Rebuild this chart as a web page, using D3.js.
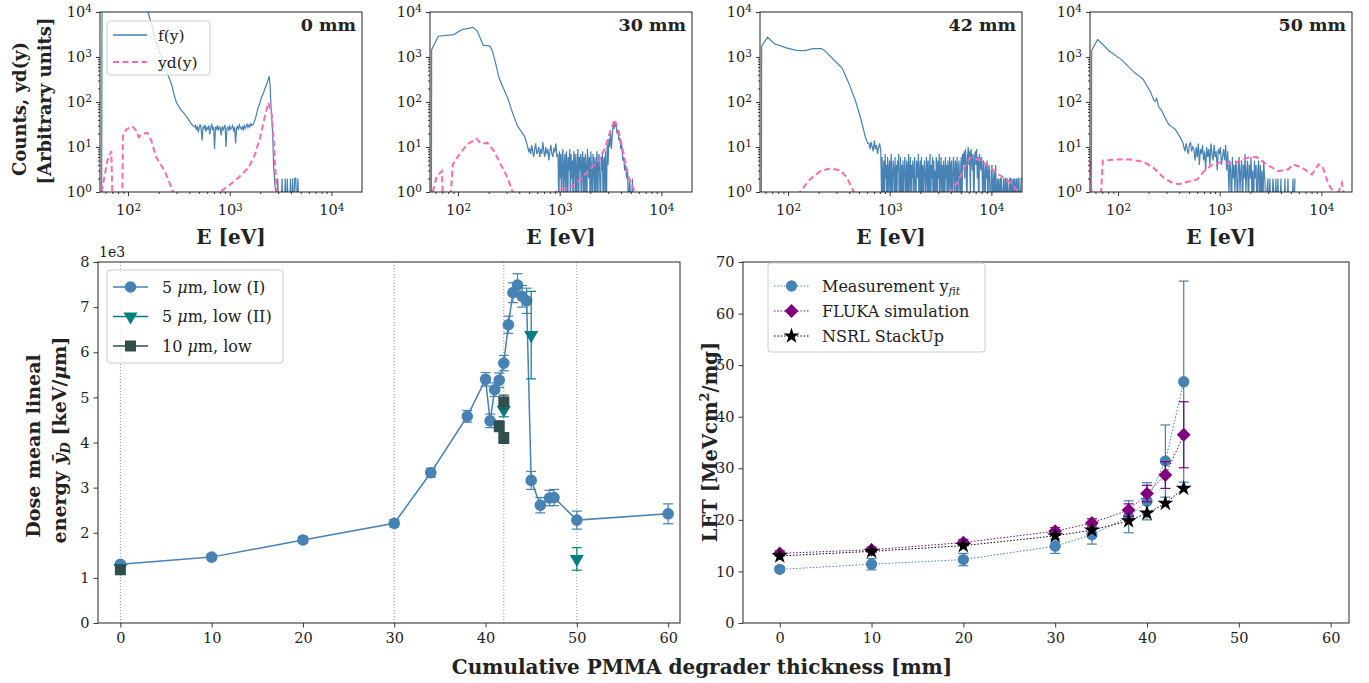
<!DOCTYPE html>
<html>
<head>
<meta charset="utf-8">
<script src="https://cdn.jsdelivr.net/npm/d3@7"></script>
<style>
  body { margin: 0; background: #fff; }
  text { font-family: "DejaVu Serif", serif; fill: #222; }
</style>
</head>
<body>
<svg id="chart" width="1369" height="683"></svg>
<script>
  // ---- spectra (top row) ----
  const E_RANGE = [53, 20000];
  const COUNT_RANGE = [1, 1e4];
  const E_TICKS = [1e2, 1e3, 1e4];
  const COUNT_TICKS = [1e0, 1e1, 1e2, 1e3, 1e4];
  const PANEL_TITLES = ["0 mm", "30 mm", "42 mm", "50 mm"];

  // f(y): smooth parts as [E, counts]; noisy parts as counts spread over a bin range
  const f0Head = [[55, 0], [55.5, 30000], [57, 60000], [157, 10000], [172, 5000], [185, 2500], [200, 1500], [214, 950], [240, 480], [268, 245], [285, 140], [300, 96], [330, 68], [363, 53], [395, 40], [422, 32], [450, 28]];
  const f0Noise = [30, 24, 29, 21, 27, 32, 25, 14, 28, 26, 31, 22, 27, 25, 30, 19, 26, 33, 24, 28, 9, 27, 25, 30, 23, 28, 26, 18, 29, 24, 27, 31, 10, 26, 28, 23, 29, 25, 27, 30, 22, 28, 12, 26, 29, 24, 31, 27, 25, 28, 23, 30, 26, 29, 32, 27, 31, 28, 33, 30];
  const f0Tail = [[1700, 31], [1800, 45], [1900, 74], [1980, 95], [2050, 124], [2150, 160], [2200, 190], [2330, 260], [2445, 373], [2500, 220], [2550, 74], [2600, 40], [2650, 18], [2700, 4], [2780, 1.5], [2850, 1]];
  const f0Spikes = [0, 2, 0, 1, 0, 2, 0, 0, 2, 0, 2, 0, 0, 2, 0, 2, 0, 2, 2, 0, 2, 0];

  const f30Head = [[54.7, 0], [55, 1450], [64, 2900], [91, 3150], [109, 4070], [141, 4560], [155, 3720], [177, 1820], [206, 1740], [218, 1350], [235, 700], [253, 345], [280, 200], [307, 124], [325, 85], [344, 57], [365, 40], [385, 29], [420, 22], [449, 17.5], [475, 12]];
  const f30NoiseA = [10, 8, 9, 7, 11, 8, 6, 9, 12, 7, 8, 10, 6, 9, 7, 13, 8, 6, 10, 7, 9, 5, 8, 11, 7, 6, 9, 8, 12, 6, 7];
  const f30NoiseB = [5, 0, 8, 2, 7, 0, 6, 9, 1, 4, 7, 0, 8, 5, 0, 6, 3, 9, 0, 7, 2, 5, 0, 8, 6, 1, 7, 0, 4, 9, 0, 6, 3, 7, 0, 5, 8, 1, 6, 0, 7, 4, 0, 9, 5, 2, 6, 0, 8, 3, 0, 7, 5, 1, 6, 0, 4, 8, 0, 5, 7, 2, 0, 6, 3, 8, 0, 5, 6, 0];
  const f30NoiseC = [8, 0, 12, 4, 15, 10, 22, 9, 18, 30, 25, 38];
  const f30NoiseD = [28, 33, 20, 24, 14, 16, 9, 11, 5, 6, 3, 4, 2, 3, 0, 2, 1, 0, 2, 0];

  const f42Head = [[54.7, 0], [55, 1740], [63, 2750], [73.6, 1960], [96, 1590], [121, 1410], [146, 1390], [177, 1540], [214, 1540], [232, 1350], [280, 880], [339, 575], [395, 266], [461, 105], [517, 44.6], [579, 16], [610, 12]];
  const f42NoiseA = [12, 9, 13, 10, 8, 14, 9, 11, 7, 10, 12, 8];
  const f42NoiseB = [1, 6, 0, 3, 5, 0, 7, 2, 4, 0, 6, 1, 3, 5, 0, 4, 7, 0, 2, 5, 3, 0, 6, 1, 4, 0, 5, 3, 7, 0, 2, 6, 0, 4, 1, 5, 0, 3, 6, 2, 0, 5, 4, 0, 7, 1, 3, 6, 0, 4, 2, 5, 0, 3, 6, 1, 0, 5, 4, 2, 7, 0, 3, 5, 0, 6, 1, 4, 0, 3, 5, 2, 0, 6, 4, 1, 5, 0, 3, 7, 0, 4, 2, 6, 0, 5, 1, 3, 0, 6, 4, 0, 5, 2, 7, 0, 3, 6, 1, 4, 0, 5, 3, 0, 6, 2, 4, 0, 5, 1, 3, 6, 0, 4, 5, 0, 2, 6, 3, 0, 5, 4, 1, 6, 0, 3, 5, 2, 0, 4];
  const f42NoiseC = [6, 0, 7, 4, 8, 2, 9, 5, 0, 6, 10, 4, 8, 1, 9, 6, 3, 7, 0, 5, 8, 4, 9, 2, 6, 0, 7, 5, 3, 6];
  const f42NoiseD = [4, 0, 5, 3, 0, 4, 2, 5, 0, 3, 4, 1, 0, 3, 4, 0, 2, 3, 0, 4];
  const f42NoiseE = [2, 0, 2, 1, 2, 0, 2, 2, 0, 1, 2, 0, 2, 2, 0, 2, 1, 0, 2, 2, 0, 2, 0, 2, 1, 2, 0, 2, 0, 2, 2, 0, 1, 2, 2];

  const f50Head = [[54.7, 0], [55, 1390], [63, 2440], [82.6, 1340], [108, 876], [141, 480], [177, 317], [207, 174], [225, 110], [232, 104], [240, 120], [250, 80], [270, 63], [290, 45], [315, 31.6], [340, 28], [366, 24.5], [411, 16], [435, 12.4]];
  const f50NoiseA = [10, 8, 12, 9, 7, 11, 13, 8, 10, 9];
  const f50NoiseB = [8, 5, 10, 6, 12, 4, 9, 7, 11, 5, 8, 3, 10, 6, 9, 4, 12, 7, 5, 11, 6, 8, 3, 9, 7, 10, 4, 6, 9, 5, 11, 3, 8];
  const f50NoiseC = [4, 1, 5, 3, 0, 6, 2, 4, 1, 5, 3, 0, 4, 6, 1, 3, 5, 0, 4, 2, 7, 1, 3, 5, 0, 4, 2, 6, 1, 3, 0, 5, 2, 4, 0, 3, 5, 0, 4, 1, 3, 0, 5, 2];
  const f50NoiseD = [2, 0, 1, 2, 0, 2, 0, 0, 2, 1, 0, 2, 0, 2, 0, 0, 2, 0, 1, 0, 2, 0, 0, 2, 0, 0, 1, 0, 2, 0, 2];

  // yd(y) as [E, value]
  const yd0 = [[55, 1], [62.5, 4.9], [68.5, 8.1], [70, 1], [71, 0.3], [86, 0.3], [88, 1], [89, 17.5], [96, 24.5], [110, 29], [121, 22.6], [127, 16.6], [141, 19.7], [155, 20.8], [170, 13.5], [190, 5.8], [230, 2.9], [278, 1], [290, 0.3], [790, 0.3], [803, 1], [970, 1.36], [1216, 2.08], [1530, 3.46], [1775, 6.9], [1990, 16], [2200, 44.5], [2400, 96], [2590, 53], [2715, 13.5], [2800, 3.46], [2910, 1], [2950, 0.3]];
  const yd30 = [[56.4, 1], [61.8, 2.26], [69.4, 2.9], [70.5, 1], [71, 0.3], [84, 0.3], [85, 1], [89, 4.1], [98, 5.8], [123, 11.4], [152, 15.3], [169, 11.8], [194, 12.4], [226, 8.1], [263, 4.1], [307, 2.08], [344, 1], [360, 0.3], [900, 0.3], [927, 1], [1120, 1.2], [1350, 1.36], [1640, 2.08], [2060, 3.46], [2400, 4.9], [2800, 9.6], [3140, 22.6], [3470, 40.8], [3800, 22.6], [4260, 6.9], [4780, 2.08], [5480, 1], [5600, 0.3]];
  const yd42 = [[125, 0.3], [131, 1], [164, 1.9], [207, 2.9], [260, 3.35], [327, 3.0], [380, 2.08], [444, 1], [460, 0.3], [3800, 0.3], [3900, 1], [4730, 1.75], [5500, 3.78], [6170, 5.8], [7480, 5.3], [9360, 3.78], [11740, 2.47], [14740, 1.75], [18600, 1], [19500, 0.3]];
  const yd50 = [[51.5, 1.75], [53, 4.9], [55, 1], [55.6, 0.3], [67, 0.3], [68.2, 1], [70.8, 5.0], [96, 5.3], [131, 5.3], [177, 4.7], [223, 3.46], [281, 2.08], [339, 1.61], [395, 1.48], [478, 1.67], [602, 1.9], [702, 2.9], [850, 4.1], [1025, 4.6], [1245, 4.25], [1510, 4.7], [1900, 5.8], [2300, 6.0], [2880, 4.1], [3770, 2.9], [4730, 3.2], [5300, 4.1], [6450, 3.46], [8080, 2.47], [9360, 4.1], [10230, 3.78], [11740, 1.48], [13200, 1], [13500, 0.3], [14500, 0.3], [14740, 1], [15900, 1.6], [16500, 1], [16800, 0.3]];

  // ---- lineal energy vs thickness (bottom left), values in 1e3 keV/um ----
  const lowIX = [0, 10, 20, 30, 34, 38, 40, 40.5, 41, 41.5, 42, 42.5, 43, 43.5, 44, 44.5, 45, 46, 47, 47.5, 50, 60];
  const lowIY = [1.30, 1.46, 1.84, 2.21, 3.33, 4.58, 5.40, 4.48, 5.17, 5.38, 5.76, 6.61, 7.32, 7.49, 7.24, 7.14, 3.16, 2.61, 2.77, 2.78, 2.28, 2.42];
  const lowIErr = [0.06, 0.06, 0.07, 0.08, 0.10, 0.13, 0.15, 0.15, 0.15, 0.16, 0.17, 0.19, 0.22, 0.25, 0.24, 0.28, 0.20, 0.17, 0.17, 0.18, 0.20, 0.22];
  const lowIIX = [0, 42, 45, 50];
  const lowIIY = [1.22, 4.72, 6.38, 1.42];
  const lowIIErr = [0.05, 0.15, 0.97, 0.25];
  const tenX = [0, 41.5, 42, 42];
  const tenY = [1.18, 4.36, 4.90, 4.10];
  const tenErr = [0.05, 0.12, 0.15, 0.12];
  const guideX = [0, 30, 42, 50];

  // ---- LET vs thickness (bottom right) ----
  const letX = [0, 10, 20, 30, 34, 38, 40, 42, 44];
  const measY = [10.4, 11.4, 12.3, 14.9, 17.1, 20.6, 23.6, 31.4, 46.8];
  const measErr = [0.5, 1.1, 1.2, 1.4, 1.8, 3.1, 3.6, 7.0, 19.5];
  const flukaY = [13.5, 14.2, 15.6, 17.8, 19.4, 21.9, 25.1, 28.7, 36.5];
  const flukaErr = [0.5, 0.5, 0.6, 0.7, 0.8, 1.2, 1.6, 2.6, 6.4];
  const nsrlY = [13.0, 13.9, 15.0, 16.9, 18.0, 19.8, 21.3, 23.2, 26.1];

  const BLUE = "#4682b4";
  const TEAL = "#008080";
  const SLATE = "#2f4f4f";
  const PINK = "#ff69b4";
  const PURPLE = "#800080";
  const TICK_FONT = 14.5;

  const svg = d3.select("#chart");

  function noiseBins(from, to, counts) {
    const n = counts.length;
    return counts.map(function (c, i) { return [from * Math.pow(to / from, i / (n - 1)), c]; });
  }

  function styleAxis(g) {
    g.select(".domain").remove();
    g.selectAll(".tick line").attr("stroke", "#222").attr("stroke-width", 0.9);
    g.selectAll(".tick text").attr("font-family", "DejaVu Serif").attr("font-size", TICK_FONT).attr("fill", "#222");
  }

  function powLabels(g) {
    g.selectAll(".tick text").each(function (d) {
      const t = d3.select(this).text("");
      t.append("tspan").text("10");
      t.append("tspan").attr("dy", "-0.45em").attr("font-size", "10.5px").text(Math.round(Math.log10(d)));
    });
  }

  function frame(x0, y0, w, h) {
    svg.append("rect").attr("x", x0).attr("y", y0).attr("width", w).attr("height", h)
      .attr("fill", "none").attr("stroke", "#222").attr("stroke-width", 1);
  }

  function rich(t, parts) {
    parts.forEach(function (p) {
      const s = t.append("tspan").text(p.t);
      if (p.it) s.attr("font-style", "italic");
      if (p.size) s.attr("font-size", p.size);
      if (p.dy) s.attr("dy", p.dy);
    });
    return t;
  }

  function clip(id, x0, y0, w, h) {
    svg.append("clipPath").attr("id", id).append("rect")
      .attr("x", x0).attr("y", y0).attr("width", w).attr("height", h);
    return svg.append("g").attr("clip-path", "url(#" + id + ")");
  }

  // ---------- top row ----------
  const SPEC_LEFTS = [100, 430, 760, 1090];
  const SPEC_W = 262, SPEC_TOP = 12, SPEC_BOTTOM = 192;
  const fSeries = [
    f0Head.concat(noiseBins(460, 1650, f0Noise), f0Tail, noiseBins(2900, 4800, f0Spikes)),
    f30Head.concat(noiseBins(484, 960, f30NoiseA), noiseBins(965, 2800, f30NoiseB),
      noiseBins(2820, 3480, f30NoiseC), noiseBins(3500, 5300, f30NoiseD)),
    f42Head.concat(noiseBins(625, 817, f42NoiseA), noiseBins(830, 5000, f42NoiseB),
      noiseBins(5050, 8000, f42NoiseC), noiseBins(8100, 11000, f42NoiseD), noiseBins(11100, 20000, f42NoiseE)),
    f50Head.concat(noiseBins(444, 557, f50NoiseA), noiseBins(560, 1200, f50NoiseB),
      noiseBins(1210, 2760, f50NoiseC), noiseBins(2780, 5500, f50NoiseD))
  ];
  const ydSeries = [yd0, yd30, yd42, yd50];

  const minorE = [], minorC = [];
  [10, 100, 1000, 10000].forEach(function (d) {
    for (let k = 2; k <= 9; k++) {
      if (d * k > E_RANGE[0] && d * k < E_RANGE[1]) minorE.push(d * k);
      if (d * k < COUNT_RANGE[1] && d < 10000) minorC.push(d * k / 10);
    }
  });

  SPEC_LEFTS.forEach(function (left, i) {
    const x = d3.scaleLog().domain(E_RANGE).range([left, left + SPEC_W]);
    const y = d3.scaleLog().domain(COUNT_RANGE).range([SPEC_BOTTOM, SPEC_TOP]);
    const yv = function (v) { return y(Math.max(v, 0.3)); };
    const line = d3.line().x(function (d) { return x(d[0]); }).y(function (d) { return yv(d[1]); });

    const g = clip("clipSpec" + i, left, SPEC_TOP, SPEC_W, SPEC_BOTTOM - SPEC_TOP);
    g.append("path").datum(fSeries[i]).attr("d", line)
      .attr("fill", "none").attr("stroke", BLUE).attr("stroke-width", 1.2);
    g.append("path").datum(ydSeries[i]).attr("d", line)
      .attr("fill", "none").attr("stroke", PINK).attr("stroke-width", 2).attr("stroke-dasharray", "6,3.5");

    svg.append("g").attr("transform", "translate(0," + SPEC_BOTTOM + ")")
      .call(d3.axisBottom(x).tickValues(minorE).tickSize(2).tickFormat(""))
      .call(styleAxis);
    svg.append("g").attr("transform", "translate(0," + SPEC_BOTTOM + ")")
      .call(d3.axisBottom(x).tickValues(E_TICKS).tickSize(4).tickPadding(9))
      .call(styleAxis).call(powLabels);
    svg.append("g").attr("transform", "translate(" + left + ",0)")
      .call(d3.axisLeft(y).tickValues(minorC).tickSize(2).tickFormat(""))
      .call(styleAxis);
    svg.append("g").attr("transform", "translate(" + left + ",0)")
      .call(d3.axisLeft(y).tickValues(COUNT_TICKS).tickSize(4).tickPadding(4))
      .call(styleAxis).call(powLabels);
    frame(left, SPEC_TOP, SPEC_W, SPEC_BOTTOM - SPEC_TOP);

    svg.append("text").attr("x", left + SPEC_W - 6).attr("y", 31).attr("text-anchor", "end")
      .attr("font-size", 17.5).attr("font-weight", "bold").text(PANEL_TITLES[i]);
    svg.append("text").attr("x", left + SPEC_W / 2).attr("y", 244).attr("text-anchor", "middle")
      .attr("font-size", 20).attr("font-weight", "bold").text("E [eV]");
  });

  [["Counts, yd(y)", 20, 109], ["[Arbitrary units]", 45, 101]].forEach(function (l) {
    svg.append("text").attr("transform", "translate(" + l[1] + "," + l[2] + ") rotate(-90)")
      .attr("dy", "0.35em").attr("text-anchor", "middle")
      .attr("font-size", 18).attr("font-weight", "bold").text(l[0]);
  });

  // top legend
  svg.append("rect").attr("x", 107).attr("y", 21).attr("width", 103).attr("height", 54).attr("rx", 3)
    .attr("fill", "#fff").attr("fill-opacity", 0.8).attr("stroke", "#ccc");
  svg.append("line").attr("x1", 113).attr("x2", 147).attr("y1", 35).attr("y2", 35)
    .attr("stroke", BLUE).attr("stroke-width", 1.3);
  svg.append("line").attr("x1", 113).attr("x2", 147).attr("y1", 62).attr("y2", 62)
    .attr("stroke", PINK).attr("stroke-width", 2).attr("stroke-dasharray", "6,3.5");
  svg.append("text").attr("x", 158).attr("y", 40.5).attr("font-size", 15.5).text("f(y)");
  svg.append("text").attr("x", 158).attr("y", 67.5).attr("font-size", 15.5).text("yd(y)");

  // ---------- bottom helpers ----------
  const B_TOP = 262, B_BOTTOM = 623;

  function errorBars(g, x, y, xs, ys, es, color) {
    xs.forEach(function (xv, k) {
      const cx = x(xv);
      g.append("line").attr("x1", cx).attr("x2", cx).attr("y1", y(ys[k] - es[k])).attr("y2", y(ys[k] + es[k]))
        .attr("stroke", color).attr("stroke-width", 1.2);
      [ys[k] - es[k], ys[k] + es[k]].forEach(function (v) {
        g.append("line").attr("x1", cx - 5).attr("x2", cx + 5).attr("y1", y(v)).attr("y2", y(v))
          .attr("stroke", color).attr("stroke-width", 1.2);
      });
    });
  }

  function markers(g, x, y, xs, ys, sym, size, color, rot) {
    g.selectAll(null).data(xs).enter().append("path")
      .attr("d", d3.symbol().type(sym).size(size)())
      .attr("transform", function (d, k) { return "translate(" + x(d) + "," + y(ys[k]) + ") rotate(" + (rot || 0) + ")"; })
      .attr("fill", color);
  }

  function linearAxes(x, y, left, right, xt, yt) {
    svg.append("g").attr("transform", "translate(0," + B_BOTTOM + ")")
      .call(d3.axisBottom(x).tickValues(xt).tickSize(4.5).tickPadding(5))
      .call(styleAxis);
    svg.append("g").attr("transform", "translate(" + left + ",0)")
      .call(d3.axisLeft(y).tickValues(yt).tickSize(4.5).tickPadding(4))
      .call(styleAxis);
    frame(left, B_TOP, right - left, B_BOTTOM - B_TOP);
  }

  // ---------- bottom left ----------
  const xL = d3.scaleLinear().domain([-2.45, 61.3]).range([98, 680]);
  const yL = d3.scaleLinear().domain([0, 8]).range([B_BOTTOM, B_TOP]);
  const gL = clip("clipL", 98, B_TOP, 582, B_BOTTOM - B_TOP);

  guideX.forEach(function (v) {
    gL.append("line").attr("x1", xL(v)).attr("x2", xL(v)).attr("y1", B_TOP).attr("y2", B_BOTTOM)
      .attr("stroke", "#888").attr("stroke-width", 0.9).attr("stroke-dasharray", "1,2");
  });

  const lineL = d3.line().x(function (d, k) { return xL(lowIX[k]); }).y(function (d) { return yL(d); });
  gL.append("path").datum(lowIY).attr("d", lineL).attr("fill", "none").attr("stroke", BLUE).attr("stroke-width", 1.5);
  errorBars(gL, xL, yL, lowIX, lowIY, lowIErr, BLUE);
  markers(gL, xL, yL, lowIX, lowIY, d3.symbolCircle, 106, BLUE);
  errorBars(gL, xL, yL, lowIIX, lowIIY, lowIIErr, TEAL);
  markers(gL, xL, yL, lowIIX, lowIIY, d3.symbolTriangle, 85, TEAL, 180);
  errorBars(gL, xL, yL, tenX, tenY, tenErr, SLATE);
  markers(gL, xL, yL, tenX, tenY, d3.symbolSquare, 121, SLATE);

  linearAxes(xL, yL, 98, 680, [0, 10, 20, 30, 40, 50, 60], [0, 1, 2, 3, 4, 5, 6, 7, 8]);
  svg.append("text").attr("x", 99).attr("y", 257).attr("font-size", 14).text("1e3");

  svg.append("text").attr("transform", "translate(33,446) rotate(-90)").attr("dy", "0.35em")
    .attr("text-anchor", "middle").attr("font-size", 19).attr("font-weight", "bold").text("Dose mean lineal");
  rich(svg.append("text").attr("transform", "translate(59,440) rotate(-90)").attr("dy", "0.35em")
    .attr("text-anchor", "middle").attr("font-size", 19).attr("font-weight", "bold"),
    [{ t: "energy " }, { t: "ȳ", it: true }, { t: "D", it: true, size: 13, dy: 4 }, { t: " [keV/", dy: -4 }, { t: "μ", it: true }, { t: "m]" }]);

  // legend bottom left
  const legL = [
    { label: "5 ", tail: "m, low (I)", color: BLUE, sym: d3.symbolCircle, size: 106, rot: 0 },
    { label: "5 ", tail: "m, low (II)", color: TEAL, sym: d3.symbolTriangle, size: 85, rot: 180 },
    { label: "10 ", tail: "m, low", color: SLATE, sym: d3.symbolSquare, size: 121, rot: 0 }
  ];
  svg.append("rect").attr("x", 107).attr("y", 270).attr("width", 176).attr("height", 93).attr("rx", 3)
    .attr("fill", "#fff").attr("fill-opacity", 0.8).attr("stroke", "#ccc");
  legL.forEach(function (it, k) {
    const cy = 287 + k * 29.5;
    svg.append("line").attr("x1", 113).attr("x2", 148).attr("y1", cy).attr("y2", cy)
      .attr("stroke", it.color).attr("stroke-width", 1.5);
    svg.append("path").attr("d", d3.symbol().type(it.sym).size(it.size)())
      .attr("transform", "translate(130.5," + cy + ") rotate(" + it.rot + ")").attr("fill", it.color);
    rich(svg.append("text").attr("x", 162).attr("y", cy + 5.5).attr("font-size", 16),
      [{ t: it.label }, { t: "μ", it: true }, { t: it.tail }]);
  });

  // ---------- bottom right ----------
  const xR = d3.scaleLinear().domain([-4.0, 62.0]).range([743, 1349]);
  const yR = d3.scaleLinear().domain([0, 70]).range([B_BOTTOM, B_TOP]);
  const gR = clip("clipR", 743, B_TOP, 606, B_BOTTOM - B_TOP);

  function dotted(ys, color) {
    const l = d3.line().x(function (d, k) { return xR(letX[k]); }).y(function (d) { return yR(d); });
    gR.append("path").datum(ys).attr("d", l).attr("fill", "none").attr("stroke", color)
      .attr("stroke-width", 1).attr("stroke-dasharray", "1.5,1.8");
  }
  dotted(measY, BLUE);
  errorBars(gR, xR, yR, letX, measY, measErr, BLUE);
  markers(gR, xR, yR, letX, measY, d3.symbolCircle, 100, BLUE);
  dotted(flukaY, PURPLE);
  errorBars(gR, xR, yR, letX, flukaY, flukaErr, PURPLE);
  markers(gR, xR, yR, letX, flukaY, d3.symbolSquare, 95, PURPLE, 45);
  dotted(nsrlY, "#000");
  markers(gR, xR, yR, letX, nsrlY, d3.symbolStar, 80, "#000");

  linearAxes(xR, yR, 743, 1349, [0, 10, 20, 30, 40, 50, 60], [0, 10, 20, 30, 40, 50, 60, 70]);

  rich(svg.append("text").attr("transform", "translate(710,442) rotate(-90)").attr("dy", "0.35em")
    .attr("text-anchor", "middle").attr("font-size", 19.5).attr("font-weight", "bold"),
    [{ t: "LET [MeVcm" }, { t: "2", size: 13, dy: -8 }, { t: "/mg]", dy: 8 }]);

  // legend bottom right
  svg.append("rect").attr("x", 768).attr("y", 263).attr("width", 217).attr("height", 89).attr("rx", 3)
    .attr("fill", "#fff").attr("fill-opacity", 0.8).attr("stroke", "#ccc");
  const legR = [
    { color: BLUE, sym: d3.symbolCircle, size: 100, rot: 0, parts: [{ t: "Measurement y" }, { t: "fit", it: true, size: 11, dy: 3 }] },
    { color: PURPLE, sym: d3.symbolSquare, size: 95, rot: 45, parts: [{ t: "FLUKA simulation" }] },
    { color: "#000", sym: d3.symbolStar, size: 80, rot: 0, parts: [{ t: "NSRL StackUp" }] }
  ];
  legR.forEach(function (it, k) {
    const cy = 286 + k * 25;
    svg.append("line").attr("x1", 774).attr("x2", 809).attr("y1", cy).attr("y2", cy)
      .attr("stroke", it.color).attr("stroke-width", 1).attr("stroke-dasharray", "1.5,1.8");
    svg.append("path").attr("d", d3.symbol().type(it.sym).size(it.size)())
      .attr("transform", "translate(791.5," + cy + ") rotate(" + it.rot + ")").attr("fill", it.color);
    rich(svg.append("text").attr("x", 822).attr("y", cy + 5.5).attr("font-size", 16), it.parts);
  });

  svg.append("text").attr("x", 702).attr("y", 674).attr("text-anchor", "middle")
    .attr("font-size", 20).attr("font-weight", "bold").text("Cumulative PMMA degrader thickness [mm]");
</script>
</body>
</html>
